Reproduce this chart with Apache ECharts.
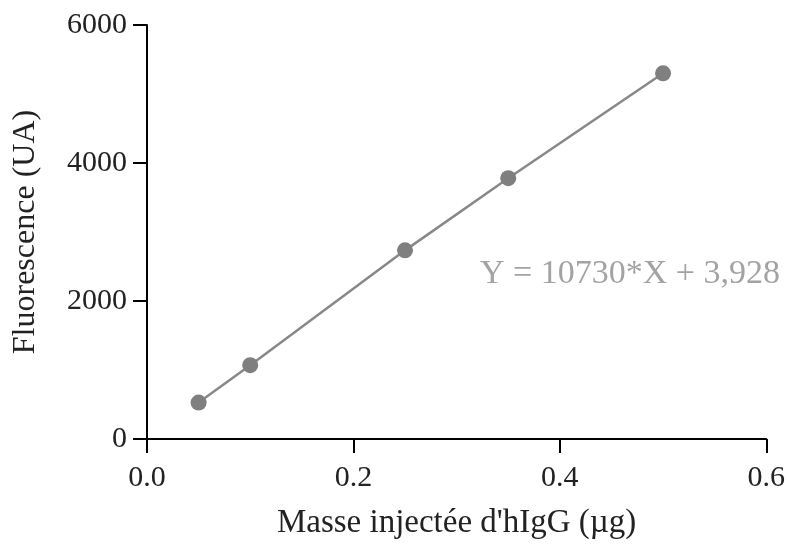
<!DOCTYPE html>
<html>
<head>
<meta charset="utf-8">
<script src="https://cdn.jsdelivr.net/npm/echarts@6/dist/echarts.min.js"></script>
<style>html,body{margin:0;padding:0;background:#fff}#c{width:788px;height:545px}</style>
</head>
<body>
<div id="c"></div>
<script>
var massX = [0.05, 0.10, 0.25, 0.35, 0.50];
var fluoY = [528, 1070, 2734, 3780, 5300];
var xTicks = [0.0, 0.2, 0.4, 0.6];
var yTicks = [0, 2000, 4000, 6000];
var equation = 'Y = 10730*X + 3,928';
var xName = "Masse injectée d'hIgG (µg)";
var yName = 'Fluorescence (UA)';

var FONT = '"Liberation Serif", "DejaVu Serif", serif';
var chart = echarts.init(document.getElementById('c'));
var pts = massX.map(function (x, i) { return [x, fluoY[i]]; });
chart.setOption({
  animation: false,
  backgroundColor: '#fff',
  grid: { left: 147, right: 20, top: 25, bottom: 103, containLabel: false },
  xAxis: {
    type: 'value', min: xTicks[0], max: xTicks[xTicks.length - 1], interval: 0.2,
    name: xName, nameLocation: 'middle', nameGap: 68,
    nameTextStyle: { fontFamily: FONT, fontSize: 33, color: '#222' },
    axisLine: { show: true, onZero: false, lineStyle: { color: '#000', width: 2 } },
    axisTick: { show: true, length: 14, lineStyle: { color: '#000', width: 2 } },
    axisLabel: { margin: 24, fontFamily: FONT, fontSize: 30, color: '#222',
      formatter: function (v) { return v.toFixed(1); } },
    splitLine: { show: false }
  },
  yAxis: {
    type: 'value', min: yTicks[0], max: yTicks[yTicks.length - 1], interval: 2000,
    name: yName, nameLocation: 'middle', nameGap: 105,
    nameTextStyle: { fontFamily: FONT, fontSize: 32, color: '#222' },
    axisLine: { show: true, onZero: false, lineStyle: { color: '#000', width: 2 } },
    axisTick: { show: true, length: 14, lineStyle: { color: '#000', width: 2 } },
    axisLabel: { margin: 20, fontFamily: FONT, fontSize: 30, color: '#222',
      formatter: function (v) { return String(v); } },
    splitLine: { show: false }
  },
  series: [{
    type: 'line', data: pts, symbol: 'circle', symbolSize: 16,
    lineStyle: { color: '#888', width: 2.5 },
    itemStyle: { color: '#7f7f7f' }
  }],
  graphic: [{
    type: 'text', right: 8, top: 257,
    style: { text: equation, fontFamily: FONT, fontSize: 34, fill: '#a3a3a3' }
  }]
});
</script>
</body>
</html>
